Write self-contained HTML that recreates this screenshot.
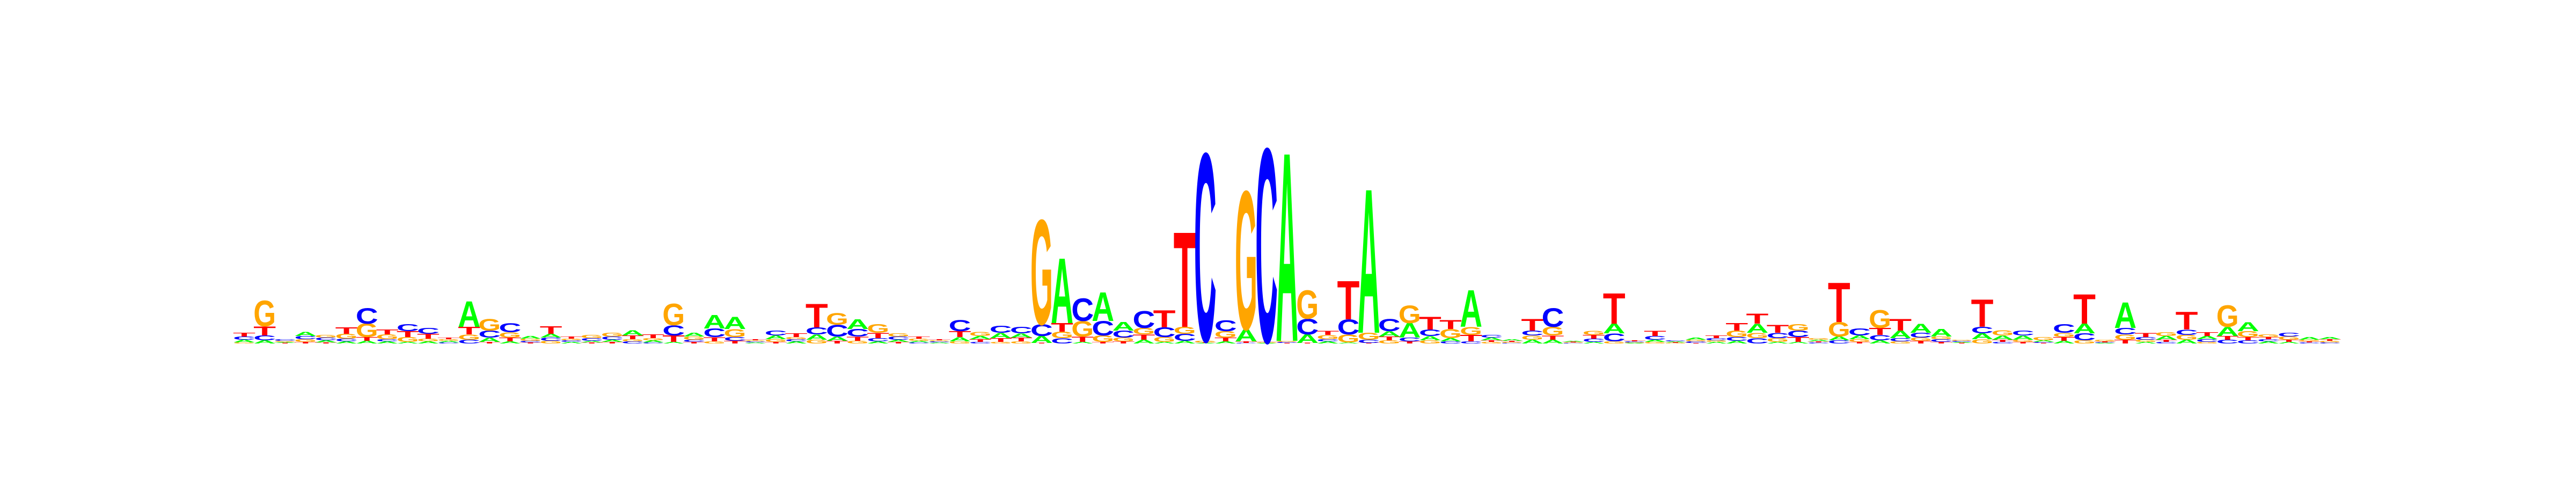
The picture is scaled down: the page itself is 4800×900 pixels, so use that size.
<!DOCTYPE html>
<html>
<head>
<meta charset="utf-8">
<style>
  html, body { margin:0; padding:0; background:#ffffff; }
  #chart { display:block; width:4800px; height:900px; }
  text { font-family: "Liberation Sans", "DejaVu Sans", sans-serif; font-weight:bold; }
</style>
</head>
<body>
<svg id="chart" width="4800" height="900" viewBox="0 0 4800 900" xmlns="http://www.w3.org/2000/svg">
  <rect x="0" y="0" width="4800" height="900" fill="#ffffff"/>
  <g id="stacks"></g>
</svg>
<script>
// information content (bits) per position for each base
const bitsA = [.025,.03,.01,.04,.02,.02,.025,.02,.015,.02,
  .015,.24,.04,.02,.025,.035,.015,.015,.02,.05,
  .02,.015,.035,.125,.115,.01,.035,.02,.05,.04,
  .09,.02,.02,.015,.01,.04,.03,.05,.04,.065,
  .61,.015,.27,.08,.035,.015,.025,.005,.02,.115,
  .005,1.765,.08,.02,.01,1.35,.05,.135,.04,.03,
  .345,.025,.015,.035,.035,.01,.015,.09,.005,.02,
  .01,.02,.015,.025,.085,.015,.015,.015,.035,.035,
  .03,.07,.085,.07,.01,.055,.04,.04,.015,.025,
  .09,.005,.24,.015,.035,.035,.03,.085,.085,.02,
  .015,.025,.02];
const bitsC = [.03,.045,.015,.03,.025,.025,.145,.02,.065,.055,
  .01,.035,.065,.085,.015,.03,.015,.025,.03,.02,
  .01,.095,.02,.08,.035,.01,.045,.02,.065,.11,
  .07,.03,.03,.01,.01,.105,.015,.065,.06,.11,
  .05,.21,.135,.065,.16,.09,.065,1.76,.1,.005,
  1.815,.01,.145,.02,.14,.03,.115,.035,.06,.02,
  .02,.025,.005,.045,.175,.005,.03,.075,.01,.035,
  .01,.015,.02,.035,.05,.05,.06,.01,.03,.065,
  .05,.03,.045,.025,.01,.06,.015,.045,.01,.08,
  .065,.005,.06,.025,.015,.05,.025,.035,.03,.02,
  .035,.01,.01];
const bitsG = [.01,.24,.01,.025,.025,.045,.125,.045,.045,.025,
  .015,.05,.11,.05,.02,.025,.015,.03,.035,.02,
  .02,.2,.03,.02,.075,.01,.025,.02,.035,.11,
  .025,.08,.03,.02,.01,.02,.04,.015,.02,.98,
  .06,.145,.06,.035,.06,.045,.065,.015,.06,1.295,
  .005,.01,.265,.04,.075,.065,.03,.165,.03,.085,
  .075,.015,.01,.04,.08,.005,.04,.02,.005,.015,
  .005,.015,.015,.06,.05,.035,.06,.015,.135,.025,
  .17,.02,.03,.025,.01,.04,.05,.02,.03,.04,
  .03,.015,.05,.02,.035,.045,.015,.2,.055,.025,
  .03,.015,.015];
const bitsT = [.035,.085,.005,.015,.01,.06,.035,.045,.055,.045,
  .015,.07,.015,.035,.01,.07,.02,.01,.015,.035,
  .035,.06,.015,.04,.025,.01,.015,.035,.22,.025,
  .04,.05,.015,.02,.01,.055,.025,.035,.035,.005,
  .08,.05,.015,.02,.05,.16,.89,.005,.035,.015,
  .005,.005,.005,.04,.36,.005,.035,.02,.12,.085,
  .06,.015,.01,.11,.04,.005,.035,.285,.01,.05,
  .005,.005,.025,.07,.095,.075,.045,.01,.37,.015,
  .065,.11,.025,.015,.005,.255,.02,.015,.005,.035,
  .275,.01,.035,.04,.02,.165,.035,.035,.03,.02,
  .02,.01,.015];
const bases = ["A","C","G","T"];
const baseColors = {A:"#00ff00", C:"#0000ff", G:"#ffa500", T:"#ff0000"};

// axis functions
const X0 = 436, COLW = 38.1, BASE_Y = 640, PX_PER_BIT = 200;
function xPos(i){ return X0 + COLW * i; }
function yLen(bits){ return bits * PX_PER_BIT; }

const NS = "http://www.w3.org/2000/svg";
const g = document.getElementById("stacks");
const series = {A:bitsA, C:bitsC, G:bitsG, T:bitsT};
const n = bitsA.length;
for (let i = 0; i < n; i++) {
  const col = document.createElementNS(NS, "g");
  
  
  const items = bases.map(b => ({b: b, v: series[b][i]})).sort((p, q) => p.v - q.v);
  let y = BASE_Y;
  const x = xPos(i);
  for (const it of items) {
    const h = yLen(it.v);
    if (h <= 0) continue;
    const w = COLW * 1.1;
    const t = document.createElementNS(NS, "text");
    
    
    t.textContent = it.b;
    t.setAttribute("x", "0");
    t.setAttribute("y", "0");
    t.setAttribute("font-size", "100");
    t.setAttribute("textLength", "100");
    t.setAttribute("lengthAdjust", "spacingAndGlyphs");
    t.setAttribute("fill", baseColors[it.b]);
    const sx = w / 100, sy = h / 70;
    t.setAttribute("transform", "translate(" + (x - COLW * 0.05) + "," + y + ") scale(" + sx + "," + sy + ")");
    col.appendChild(t);
    y -= h;
  }
  g.appendChild(col);
}
</script>
</body>
</html>
